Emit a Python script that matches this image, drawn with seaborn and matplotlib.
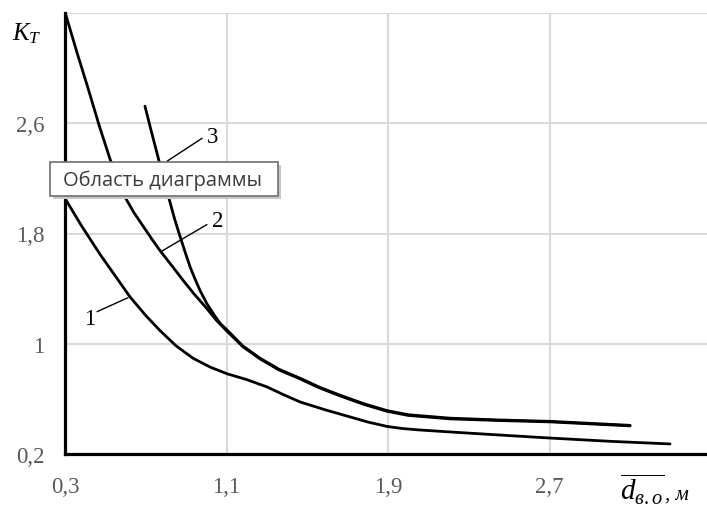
import pandas as pd
import matplotlib.pyplot as plt
import matplotlib.patches as mpatches
import seaborn as sns

# Данные кривых
x1 = [0.30, 0.38, 0.473, 0.55, 0.622, 0.70, 0.771, 0.85, 0.934, 1.02, 1.103, 1.20, 1.30,
      1.38, 1.464, 1.59, 1.712, 1.80, 1.895, 1.97, 2.05, 2.207, 2.45, 2.70, 3.00, 3.297]
y1 = [2.055, 1.86, 1.65, 1.49, 1.34, 1.205, 1.095, 0.985, 0.895, 0.83, 0.782, 0.74, 0.687,
      0.632, 0.578, 0.52, 0.469, 0.432, 0.40, 0.385, 0.375, 0.36, 0.338, 0.316, 0.292, 0.273]

x2 = [0.30, 0.36, 0.414, 0.47, 0.523, 0.56, 0.597, 0.64, 0.686, 0.73, 0.771, 0.83, 0.885,
      0.94, 1.003, 1.05, 1.103, 1.18, 1.266, 1.36, 1.464, 1.56, 1.662, 1.78, 1.895, 2.00,
      2.207, 2.45, 2.703, 3.099]
y2 = [3.407, 3.11, 2.855, 2.58, 2.34, 2.19, 2.065, 1.955, 1.855, 1.76, 1.675, 1.565, 1.46,
      1.36, 1.255, 1.17, 1.09, 0.98, 0.89, 0.81, 0.745, 0.68, 0.622, 0.56, 0.51, 0.48,
      0.455, 0.443, 0.433, 0.404]

x3 = [0.696, 0.726, 0.756, 0.785, 0.815, 0.842, 0.870, 0.895, 0.919, 0.944, 0.969, 1.003,
      1.043, 1.07, 1.103, 1.18, 1.266, 1.36, 1.464, 1.56, 1.662, 1.78, 1.895, 2.00, 2.207,
      2.45, 2.703, 3.099]
y3 = [2.724, 2.55, 2.382, 2.215, 2.055, 1.91, 1.778, 1.665, 1.56, 1.47, 1.386, 1.29,
      1.20, 1.145, 1.10, 0.985, 0.895, 0.815, 0.75, 0.685, 0.627, 0.565, 0.515, 0.485, 0.46,
      0.447, 0.437, 0.408]

x_ticks = [0.3, 1.1, 1.9, 2.7]
x_labels = ["0,3", "1,1", "1,9", "2,7"]
y_ticks = [0.2, 1.0, 1.8, 2.6, 3.4]
y_labels = ["0,2", "1", "1,8", "2,6", ""]

# подписи кривых: номер, позиция текста, начало и конец выноски
curve_names = ["1", "2", "3"]
label_pos = [(0.424, 1.18), (1.058, 1.894), (1.033, 2.505)]
leader_from = [(0.459, 1.233), (1.003, 1.865), (0.979, 2.491)]
leader_to = [(0.612, 1.334), (0.776, 1.669), (0.805, 2.324)]

sns.set_theme(style="whitegrid")
plt.rcParams['mathtext.fontset'] = 'custom'
plt.rcParams['mathtext.it'] = 'Liberation Serif:italic'
plt.rcParams['mathtext.rm'] = 'Liberation Serif'

df = pd.concat([
    pd.DataFrame({'x': x1, 'y': y1, 'curve': '1'}),
    pd.DataFrame({'x': x2, 'y': y2, 'curve': '2'}),
    pd.DataFrame({'x': x3, 'y': y3, 'curve': '3'}),
])

W, H = 707, 510
fig = plt.figure(figsize=(W / 100, H / 100), dpi=100)
ax = fig.add_axes([65 / W, 55 / H, 642 / W, 441 / H])

sns.lineplot(data=df, x='x', y='y', hue='curve', palette=['black'] * 3,
             sort=False, estimator=None, legend=False, linewidth=2.0, ax=ax)
for line in ax.get_lines():
    line.set_solid_joinstyle('round')

ax.set_xlim(0.3, 3.48)
ax.set_ylim(0.2, 3.4)
ax.set_xticks(x_ticks)
ax.set_xticklabels(x_labels)
ax.set_yticks(y_ticks)
ax.set_yticklabels(y_labels)
ax.set_xlabel('')
ax.set_ylabel('')
ax.grid(True, color='#d9d9d9', linewidth=1.5)
ax.set_facecolor('white')
for side in ['top', 'right']:
    ax.spines[side].set_visible(False)
for side in ['left', 'bottom']:
    ax.spines[side].set_color('black')
    ax.spines[side].set_linewidth(2.3)
    ax.spines[side].set_zorder(5)
ax.tick_params(axis='x', length=0, pad=16, labelsize=16.5, labelcolor='#595959')
ax.tick_params(axis='y', length=0, pad=15, labelsize=16.5, labelcolor='#595959')
for lbl in ax.get_xticklabels() + ax.get_yticklabels():
    lbl.set_family('Liberation Serif')

# номера кривых с выносками
for name, p, a, b in zip(curve_names, label_pos, leader_from, leader_to):
    ax.plot([a[0], b[0]], [a[1], b[1]], color='black', linewidth=1.0)
    ax.text(p[0], p[1], name, fontsize=16.5, family='Liberation Serif',
            ha='center', va='center', color='black')

# подписи осей
fig.text(12 / W, 1 - 40 / H, r'$K_T$', fontsize=18, color='black', va='baseline')
fig.text(620 / W, 1 - 500 / H, r'$\overline{d_{в.о}}$', fontsize=21, color='black', va='baseline')
fig.text(665 / W, 1 - 500 / H, ', м', fontsize=15, color='black', va='baseline',
         family='Liberation Serif', style='italic')

# всплывающая подсказка
fig.patches.append(mpatches.Rectangle((53 / W, 1 - 200 / H), 228 / W, 34 / H,
                                      transform=fig.transFigure, facecolor='#c8c8c8',
                                      edgecolor='none', zorder=10))
fig.patches.append(mpatches.Rectangle((50 / W, 1 - 197 / H), 228 / W, 34 / H,
                                      transform=fig.transFigure, facecolor='white',
                                      edgecolor='#6e6e6e', linewidth=1.2, zorder=11))
fig.text(63 / W, 1 - 181 / H, 'Область диаграммы', fontsize=14.5, family='Open Sans',
         color='#3c3c3c', va='center', zorder=12)

plt.savefig('out.png', dpi=100)
